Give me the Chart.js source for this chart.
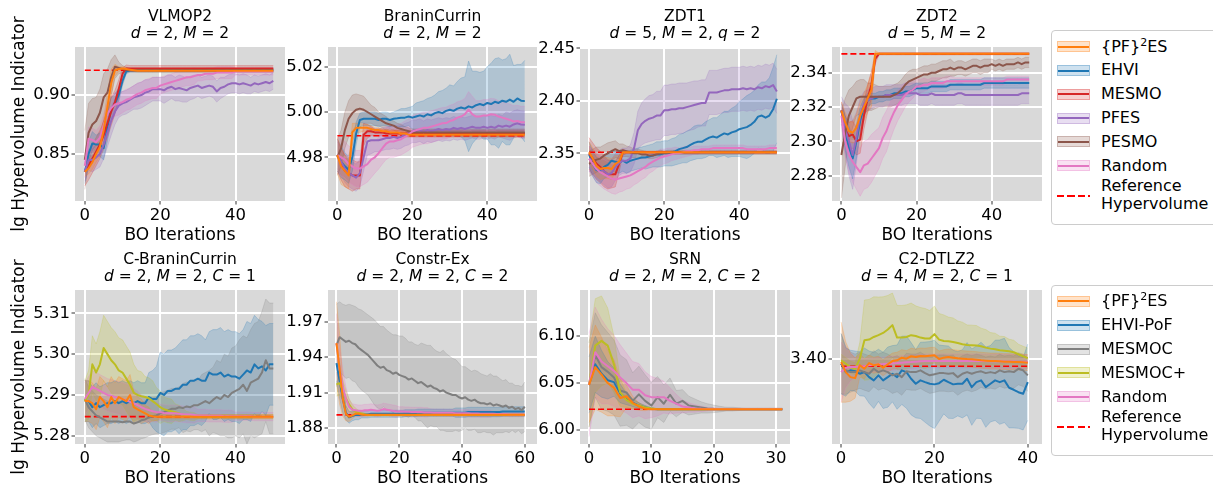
<!DOCTYPE html>
<html>
<head>
<meta charset="utf-8">
<script src="https://cdn.jsdelivr.net/npm/chart.js@4.4.1/dist/chart.umd.min.js"></script>
<style>
  html, body { margin: 0; padding: 0; }
  body { width: 1213px; height: 486px; position: relative; overflow: hidden; background: #fff;
         font-family: 'DejaVu Sans', sans-serif; color: #000; }
  canvas { position: absolute; }
  .ttl { position: absolute; width: 320px; text-align: center; font-size: 15.5px; line-height: 16.6px; white-space: nowrap; }
  .ylab { position: absolute; font-size: 17px; white-space: nowrap; transform: translate(-50%, -50%) rotate(-90deg); }
  .leg { position: absolute; left: 1051px; width: 190px; border: 1px solid #cccccc; border-radius: 4px; background: #fff; }
  .key { position: absolute; left: 1057px; width: 33px; height: 11px; box-sizing: border-box; }
  .key i { position: absolute; left: 0; right: 0; top: 3.5px; height: 2px; }
  .lab { position: absolute; left: 1101px; font-size: 16px; line-height: 18.4px; white-space: nowrap; }
  .lab sup { font-size: 11px; vertical-align: 0; position: relative; top: -6px; }
</style>
</head>
<body>
<script>
// ---------------- data: mean and spread per method, one value per BO iteration ----------------

// VLMOP2 (d=2, M=2)
const vlmop2Ref = 0.921;
const vlmop2Pf2es = [0.835,0.838,0.843,0.850,0.856,0.870,0.890,0.910,0.921,0.922,
  0.9225,0.922,0.9215,0.921,0.9205,0.9205,0.9205,0.9205,0.9205,0.9205,
  0.9205,0.9205,0.9205,0.9205,0.9205,0.9205,0.9205,0.9205,0.9205,0.9205,
  0.9205,0.9205,0.9205,0.9205,0.9205,0.9205,0.9205,0.9205,0.9205,0.9205,
  0.9205,0.9205,0.9205,0.9205,0.9205,0.9205,0.9205,0.9205,0.9205,0.9205,0.9205];
const vlmop2Pf2esSd = [0.004,0.005,0.006,0.007,0.008,0.010,0.012,0.012,0.005,0.002,
  0.0015,0.001,0.001,0.001,0.001,0.001,0.001,0.001,0.001,0.001,
  0.001,0.001,0.001,0.001,0.001,0.001,0.001,0.001,0.001,0.001,
  0.001,0.001,0.001,0.001,0.001,0.001,0.001,0.001,0.001,0.001,
  0.001,0.001,0.001,0.001,0.001,0.001,0.001,0.001,0.001,0.001,0.001];
const vlmop2Ehvi = [0.835,0.850,0.859,0.858,0.858,0.855,0.873,0.888,0.893,0.900,
  0.912,0.920,0.921,0.921,0.921,0.921,0.921,0.921,0.921,0.921,
  0.921,0.921,0.921,0.921,0.921,0.921,0.921,0.921,0.921,0.921,
  0.921,0.921,0.921,0.921,0.921,0.921,0.921,0.921,0.921,0.921,
  0.921,0.921,0.921,0.921,0.921,0.921,0.921,0.921,0.921,0.921,0.921];
const vlmop2EhviSd = [0.010,0.010,0.010,0.008,0.010,0.010,0.012,0.010,0.008,0.006,
  0.004,0.002,0.0015,0.0015,0.0015,0.0015,0.0015,0.0015,0.0015,0.0015,
  0.0015,0.0015,0.0015,0.0015,0.0015,0.0015,0.0015,0.0015,0.0015,0.0015,
  0.0015,0.0015,0.0015,0.0015,0.0015,0.0015,0.0015,0.0015,0.0015,0.0015,
  0.0015,0.0015,0.0015,0.0015,0.0015,0.0015,0.0015,0.0015,0.0015,0.0015,0.0015];
const vlmop2Mesmo = [0.835,0.840,0.846,0.852,0.858,0.866,0.876,0.886,0.894,0.905,
  0.918,0.9225,0.9225,0.9225,0.9225,0.9225,0.9225,0.9225,0.9225,0.9225,
  0.9225,0.9225,0.9225,0.9225,0.9225,0.9225,0.9225,0.9225,0.9225,0.9225,
  0.9225,0.9225,0.9225,0.9225,0.9225,0.9225,0.9225,0.9225,0.9225,0.9225,
  0.9225,0.9225,0.9225,0.9225,0.9225,0.9225,0.9225,0.9225,0.9225,0.9225,0.9225];
const vlmop2MesmoSd = [0.012,0.012,0.012,0.012,0.012,0.012,0.012,0.012,0.010,0.008,
  0.005,0.003,0.0025,0.0025,0.0025,0.0025,0.0025,0.0025,0.0025,0.0025,
  0.0025,0.0025,0.0025,0.0025,0.0025,0.0025,0.0025,0.0025,0.0025,0.0025,
  0.0025,0.0025,0.0025,0.0025,0.0025,0.0025,0.0025,0.0025,0.0025,0.0025,
  0.0025,0.0025,0.0025,0.0025,0.0025,0.0025,0.0025,0.0025,0.0025,0.0025,0.0025];
const vlmop2Pfes = [0.835,0.845,0.845,0.847,0.850,0.858,0.868,0.878,0.886,0.891,
  0.893,0.894,0.896,0.898,0.899,0.900,0.902,0.903,0.905,0.905,
  0.905,0.904,0.906,0.907,0.905,0.906,0.905,0.904,0.906,0.907,
  0.908,0.906,0.907,0.908,0.907,0.903,0.906,0.907,0.909,0.910,
  0.910,0.909,0.910,0.909,0.908,0.910,0.909,0.910,0.911,0.910,0.912];
const vlmop2PfesSd = [0.008,0.009,0.010,0.010,0.011,0.012,0.012,0.012,0.011,0.010,
  0.010,0.010,0.010,0.010,0.011,0.011,0.011,0.010,0.010,0.010,
  0.010,0.011,0.011,0.010,0.010,0.011,0.011,0.010,0.010,0.010,
  0.009,0.009,0.009,0.009,0.009,0.009,0.009,0.008,0.008,0.008,
  0.008,0.008,0.008,0.008,0.007,0.007,0.007,0.007,0.007,0.007,0.007];
const vlmop2Pesmo = [0.845,0.868,0.875,0.878,0.885,0.898,0.902,0.915,0.924,0.923,
  0.922,0.9215,0.921,0.921,0.921,0.921,0.921,0.921,0.921,0.921,
  0.921,0.921,0.921,0.921,0.921,0.921,0.921,0.921,0.921,0.921,
  0.921,0.921,0.921,0.921,0.921,0.921,0.921,0.921,0.921,0.921,
  0.921,0.921,0.921,0.921,0.921,0.921,0.921,0.921,0.921,0.921,0.921];
const vlmop2PesmoSd = [0.025,0.025,0.022,0.020,0.020,0.020,0.020,0.015,0.010,0.005,
  0.003,0.002,0.0015,0.0015,0.0015,0.0015,0.0015,0.0015,0.0015,0.0015,
  0.0015,0.0015,0.0015,0.0015,0.0015,0.0015,0.0015,0.0015,0.0015,0.0015,
  0.0015,0.0015,0.0015,0.0015,0.0015,0.0015,0.0015,0.0015,0.0015,0.0015,
  0.0015,0.0015,0.0015,0.0015,0.0015,0.0015,0.0015,0.0015,0.0015,0.0015,0.0015];
const vlmop2Random = [0.840,0.863,0.862,0.860,0.864,0.874,0.884,0.889,0.892,0.893,
  0.894,0.896,0.897,0.899,0.901,0.902,0.904,0.905,0.906,0.906,
  0.908,0.909,0.910,0.911,0.912,0.913,0.914,0.915,0.915,0.916,
  0.917,0.917,0.918,0.918,0.918,0.919,0.919,0.919,0.919,0.919,
  0.920,0.920,0.920,0.920,0.920,0.920,0.920,0.920,0.920,0.920,0.920];
const vlmop2RandomSd = [0.010,0.010,0.010,0.010,0.010,0.010,0.010,0.010,0.010,0.010,
  0.009,0.009,0.009,0.009,0.009,0.009,0.009,0.009,0.009,0.009,
  0.007,0.007,0.007,0.007,0.007,0.007,0.007,0.007,0.007,0.007,
  0.005,0.005,0.005,0.005,0.005,0.005,0.005,0.005,0.005,0.005,
  0.003,0.003,0.003,0.003,0.003,0.003,0.003,0.003,0.003,0.003,0.003];

// BraninCurrin (d=2, M=2)
const braninRef = 4.9895;
const braninPf2es = [4.981,4.976,4.974,4.972,4.991,4.993,4.993,4.993,4.993,4.9925,
  4.992,4.992,4.9915,4.9915,4.991,4.991,4.991,4.9905,4.9905,4.990,
  4.990,4.990,4.990,4.990,4.990,4.990,4.990,4.990,4.990,4.990,
  4.990,4.990,4.990,4.990,4.990,4.990,4.990,4.990,4.990,4.990,
  4.990,4.990,4.990,4.990,4.990,4.990,4.990,4.990,4.990,4.990,4.990];
const braninPf2esSd = [0.008,0.008,0.007,0.006,0.004,0.002,0.002,0.0015,0.0015,0.0015,
  0.001,0.001,0.001,0.001,0.001,0.001,0.001,0.001,0.001,0.001,
  0.001,0.001,0.001,0.001,0.001,0.001,0.001,0.001,0.001,0.001,
  0.001,0.001,0.001,0.001,0.001,0.001,0.001,0.001,0.001,0.001,
  0.001,0.001,0.001,0.001,0.001,0.001,0.001,0.001,0.001,0.001,0.001];
const braninEhvi = [4.981,4.978,4.976,4.9745,4.980,4.9905,4.9965,4.997,4.997,4.997,
  4.997,4.9965,4.997,4.997,4.9965,4.997,4.9972,4.9975,4.9975,4.998,
  4.9975,4.998,4.9985,4.998,4.999,4.9985,4.9995,5.000,4.9995,5.0005,
  5.001,5.0005,5.0015,5.002,5.0015,5.0025,5.002,5.003,5.0035,5.003,
  5.004,5.0035,5.0045,5.004,5.005,5.0045,5.0055,5.0045,5.006,5.005,5.0048];
const braninEhviSd = [0.007,0.007,0.006,0.006,0.006,0.005,0.003,0.003,0.003,0.003,
  0.003,0.003,0.003,0.003,0.003,0.003,0.0035,0.004,0.004,0.004,
  0.005,0.006,0.006,0.007,0.007,0.008,0.008,0.009,0.010,0.010,
  0.011,0.011,0.012,0.013,0.014,0.020,0.016,0.015,0.014,0.015,
  0.016,0.018,0.019,0.020,0.018,0.019,0.020,0.016,0.015,0.016,0.018];
const braninMesmo = [4.981,4.977,4.974,4.973,4.972,4.972,4.972,4.990,4.9915,4.9915,
  4.991,4.991,4.991,4.9905,4.9905,4.9905,4.9905,4.9905,4.9905,4.9905,
  4.9905,4.9905,4.9905,4.9905,4.9905,4.9905,4.9905,4.9905,4.9905,4.9905,
  4.9905,4.9905,4.9905,4.9905,4.9905,4.9905,4.9905,4.9905,4.9905,4.9905,
  4.9905,4.9905,4.9905,4.9905,4.9905,4.9905,4.9905,4.9905,4.9905,4.9905,4.9905];
const braninMesmoSd = [0.007,0.007,0.007,0.007,0.007,0.006,0.006,0.005,0.003,0.002,
  0.0015,0.0015,0.0015,0.0015,0.0015,0.0015,0.0015,0.0015,0.0015,0.0015,
  0.0015,0.0015,0.0015,0.0015,0.0015,0.0015,0.0015,0.0015,0.0015,0.0015,
  0.0015,0.0015,0.0015,0.0015,0.0015,0.0015,0.0015,0.0015,0.0015,0.0015,
  0.0015,0.0015,0.0015,0.0015,0.0015,0.0015,0.0015,0.0015,0.0015,0.0015,0.0015];
const braninPfes = [4.981,4.978,4.975,4.973,4.972,4.971,4.973,4.980,4.987,4.9875,
  4.9875,4.9875,4.988,4.9885,4.9885,4.989,4.9885,4.989,4.990,4.9905,
  4.9915,4.9915,4.992,4.991,4.992,4.9915,4.992,4.9925,4.992,4.9925,
  4.9922,4.993,4.9925,4.993,4.9925,4.993,4.9935,4.993,4.993,4.9935,
  4.993,4.9935,4.993,4.994,4.9935,4.994,4.9935,4.9945,4.995,4.9945,4.9944];
const braninPfesSd = [0.006,0.006,0.006,0.006,0.006,0.006,0.006,0.006,0.006,0.006,
  0.005,0.005,0.005,0.005,0.005,0.005,0.005,0.005,0.005,0.005,
  0.005,0.005,0.005,0.005,0.005,0.005,0.005,0.005,0.005,0.005,
  0.005,0.005,0.005,0.005,0.005,0.005,0.005,0.005,0.005,0.005,
  0.005,0.005,0.005,0.005,0.005,0.006,0.006,0.006,0.006,0.006,0.006];
const braninPesmo = [4.980,4.984,4.992,4.997,4.9995,5.001,5.0015,5.001,5.000,4.999,
  4.998,4.997,4.996,4.995,4.9945,4.994,4.993,4.9925,4.992,4.9915,
  4.991,4.991,4.991,4.991,4.991,4.991,4.991,4.991,4.991,4.991,
  4.991,4.991,4.991,4.991,4.991,4.991,4.991,4.991,4.991,4.991,
  4.991,4.991,4.991,4.991,4.991,4.991,4.991,4.991,4.991,4.991,4.991];
const braninPesmoSd = [0.008,0.008,0.008,0.008,0.008,0.007,0.006,0.006,0.005,0.004,
  0.004,0.003,0.003,0.003,0.002,0.002,0.002,0.002,0.0015,0.0015,
  0.0015,0.0015,0.0015,0.0015,0.0015,0.0015,0.0015,0.0015,0.0015,0.0015,
  0.0015,0.0015,0.0015,0.0015,0.0015,0.0015,0.0015,0.0015,0.0015,0.0015,
  0.0015,0.0015,0.0015,0.0015,0.0015,0.0015,0.0015,0.0015,0.0015,0.0015,0.0015];
const braninRandom = [4.981,4.980,4.979,4.977,4.976,4.975,4.975,4.976,4.977,4.979,
  4.980,4.9818,4.984,4.986,4.987,4.987,4.9875,4.988,4.989,4.990,
  4.9914,4.992,4.9925,4.993,4.993,4.9935,4.994,4.9945,4.995,4.9951,
  4.996,4.9965,4.9975,4.998,4.999,5.001,4.999,4.998,4.998,4.9985,
  4.9985,4.999,4.9988,4.998,4.9975,4.997,4.9965,4.9958,4.996,4.9955,4.9955];
const braninRandomSd = [0.008,0.008,0.008,0.008,0.008,0.008,0.008,0.008,0.008,0.008,
  0.007,0.007,0.007,0.007,0.007,0.007,0.007,0.007,0.007,0.007,
  0.007,0.007,0.007,0.007,0.007,0.007,0.007,0.007,0.007,0.007,
  0.007,0.007,0.007,0.007,0.007,0.008,0.008,0.007,0.007,0.007,
  0.007,0.007,0.007,0.007,0.007,0.007,0.007,0.007,0.007,0.007,0.007];

// ZDT1 (d=5, M=2, q=2)
const zdt1Ref = 2.351;
const zdt1Pf2es = [2.351,2.345,2.338,2.335,2.336,2.336,2.335,2.340,2.342,2.351,
  2.351,2.351,2.351,2.351,2.351,2.351,2.351,2.351,2.351,2.351,
  2.351,2.351,2.351,2.351,2.351,2.351,2.351,2.351,2.351,2.351,
  2.351,2.351,2.351,2.351,2.351,2.351,2.351,2.351,2.351,2.351,
  2.351,2.351,2.351,2.351,2.351,2.351,2.351,2.351,2.351,2.351,2.351];
const zdt1Pf2esSd = [0.010,0.010,0.010,0.010,0.010,0.010,0.010,0.008,0.006,0.002,
  0.001,0.001,0.001,0.001,0.001,0.001,0.001,0.001,0.001,0.001,
  0.001,0.001,0.001,0.001,0.001,0.001,0.001,0.001,0.001,0.001,
  0.001,0.001,0.001,0.001,0.001,0.001,0.001,0.001,0.001,0.001,
  0.001,0.001,0.001,0.001,0.001,0.001,0.001,0.001,0.001,0.001,0.001];
const zdt1Ehvi = [2.349,2.340,2.334,2.333,2.337,2.339,2.343,2.342,2.341,2.343,
  2.341,2.343,2.344,2.345,2.346,2.346,2.347,2.348,2.349,2.349,
  2.350,2.350,2.351,2.352,2.354,2.355,2.356,2.358,2.360,2.361,
  2.361,2.363,2.365,2.366,2.365,2.367,2.369,2.368,2.370,2.371,
  2.373,2.374,2.375,2.377,2.380,2.385,2.386,2.384,2.386,2.392,2.402];
const zdt1EhviSd = [0.012,0.012,0.012,0.012,0.011,0.011,0.010,0.010,0.010,0.010,
  0.010,0.010,0.010,0.010,0.010,0.011,0.011,0.011,0.012,0.012,
  0.012,0.012,0.013,0.013,0.014,0.014,0.015,0.015,0.016,0.016,
  0.016,0.017,0.017,0.018,0.019,0.020,0.021,0.022,0.023,0.024,
  0.026,0.028,0.030,0.030,0.030,0.030,0.032,0.034,0.036,0.040,0.042];
const zdt1Mesmo = [2.350,2.345,2.340,2.337,2.333,2.330,2.330,2.330,2.340,2.351,
  2.351,2.351,2.351,2.351,2.351,2.351,2.351,2.351,2.351,2.351,
  2.351,2.351,2.351,2.351,2.351,2.351,2.351,2.351,2.351,2.351,
  2.351,2.351,2.351,2.351,2.351,2.351,2.351,2.351,2.351,2.351,
  2.351,2.351,2.351,2.351,2.351,2.351,2.351,2.351,2.351,2.351,2.351];
const zdt1MesmoSd = [0.015,0.015,0.015,0.015,0.015,0.014,0.013,0.012,0.008,0.003,
  0.001,0.001,0.001,0.001,0.001,0.001,0.001,0.001,0.001,0.001,
  0.001,0.001,0.001,0.001,0.001,0.001,0.001,0.001,0.001,0.001,
  0.001,0.001,0.001,0.001,0.001,0.001,0.001,0.001,0.001,0.001,
  0.001,0.001,0.001,0.001,0.001,0.001,0.001,0.001,0.001,0.001,0.001];
const zdt1Pfes = [2.345,2.342,2.338,2.335,2.333,2.330,2.331,2.337,2.341,2.343,
  2.343,2.345,2.355,2.372,2.378,2.381,2.383,2.384,2.386,2.386,
  2.391,2.391,2.392,2.392,2.393,2.393,2.394,2.395,2.396,2.397,
  2.398,2.398,2.408,2.408,2.408,2.409,2.410,2.410,2.411,2.411,
  2.411,2.412,2.411,2.412,2.411,2.413,2.412,2.414,2.413,2.415,2.409];
const zdt1PfesSd = [0.012,0.012,0.012,0.012,0.013,0.013,0.013,0.013,0.012,0.012,
  0.012,0.013,0.015,0.018,0.020,0.021,0.022,0.022,0.023,0.023,
  0.024,0.024,0.024,0.024,0.024,0.024,0.023,0.023,0.023,0.022,
  0.022,0.022,0.021,0.021,0.021,0.021,0.021,0.021,0.021,0.021,
  0.021,0.021,0.021,0.021,0.021,0.021,0.021,0.021,0.021,0.021,0.021];
const zdt1Pesmo = [2.340,2.342,2.344,2.345,2.348,2.350,2.352,2.354,2.352,2.353,
  2.352,2.351,2.350,2.350,2.349,2.349,2.348,2.348,2.349,2.350,
  2.350,2.351,2.351,2.351,2.351,2.351,2.351,2.351,2.351,2.351,
  2.351,2.351,2.351,2.351,2.351,2.351,2.351,2.351,2.351,2.351,
  2.351,2.351,2.351,2.351,2.351,2.351,2.351,2.351,2.351,2.351,2.351];
const zdt1PesmoSd = [0.012,0.012,0.012,0.011,0.010,0.010,0.009,0.008,0.007,0.006,
  0.005,0.005,0.004,0.004,0.004,0.003,0.003,0.003,0.003,0.003,
  0.002,0.002,0.002,0.002,0.002,0.002,0.002,0.002,0.002,0.002,
  0.002,0.002,0.002,0.002,0.002,0.002,0.002,0.002,0.002,0.002,
  0.002,0.002,0.002,0.002,0.002,0.002,0.002,0.002,0.002,0.002,0.002];
const zdt1Random = [2.345,2.340,2.335,2.332,2.330,2.328,2.326,2.325,2.326,2.327,
  2.328,2.329,2.331,2.333,2.335,2.337,2.340,2.342,2.344,2.346,
  2.347,2.348,2.349,2.350,2.350,2.351,2.352,2.352,2.353,2.353,
  2.354,2.354,2.354,2.355,2.355,2.355,2.355,2.355,2.355,2.355,
  2.355,2.355,2.354,2.354,2.354,2.354,2.354,2.354,2.355,2.355,2.355];
const zdt1RandomSd = [0.012,0.012,0.013,0.013,0.014,0.014,0.014,0.014,0.013,0.013,
  0.012,0.012,0.011,0.011,0.010,0.010,0.009,0.009,0.008,0.008,
  0.007,0.007,0.006,0.006,0.005,0.005,0.005,0.004,0.004,0.004,
  0.003,0.003,0.003,0.003,0.003,0.003,0.003,0.003,0.003,0.003,
  0.003,0.003,0.003,0.003,0.003,0.003,0.003,0.003,0.003,0.003,0.003];

// ZDT2 (d=5, M=2)
const zdt2Ref = 2.351;
const zdt2Pf2es = [2.318,2.311,2.306,2.305,2.308,2.315,2.320,2.325,2.330,2.351,
  2.351,2.351,2.351,2.351,2.351,2.351,2.351,2.351,2.351,2.351,
  2.351,2.351,2.351,2.351,2.351,2.351,2.351,2.351,2.351,2.351,
  2.351,2.351,2.351,2.351,2.351,2.351,2.351,2.351,2.351,2.351,
  2.351,2.351,2.351,2.351,2.351,2.351,2.351,2.351,2.351,2.351,2.351];
const zdt2Pf2esSd = [0.005,0.006,0.006,0.006,0.008,0.008,0.008,0.008,0.010,0.002,
  0.0005,0.0005,0.0005,0.0005,0.0005,0.0005,0.0005,0.0005,0.0005,0.0005,
  0.0005,0.0005,0.0005,0.0005,0.0005,0.0005,0.0005,0.0005,0.0005,0.0005,
  0.0005,0.0005,0.0005,0.0005,0.0005,0.0005,0.0005,0.0005,0.0005,0.0005,
  0.0005,0.0005,0.0005,0.0005,0.0005,0.0005,0.0005,0.0005,0.0005,0.0005,0.0005];
const zdt2Ehvi = [2.318,2.305,2.297,2.290,2.300,2.312,2.320,2.324,2.325,2.325,
  2.326,2.326,2.327,2.327,2.328,2.328,2.328,2.329,2.329,2.330,
  2.331,2.331,2.331,2.331,2.332,2.332,2.332,2.332,2.332,2.333,
  2.333,2.333,2.333,2.333,2.333,2.333,2.333,2.333,2.334,2.334,
  2.334,2.334,2.334,2.334,2.334,2.334,2.334,2.334,2.334,2.334,2.334];
const zdt2EhviSd = [0.004,0.010,0.012,0.012,0.010,0.008,0.005,0.004,0.003,0.003,
  0.003,0.003,0.003,0.003,0.003,0.003,0.003,0.003,0.003,0.003,
  0.003,0.003,0.003,0.003,0.003,0.003,0.003,0.003,0.003,0.003,
  0.003,0.003,0.003,0.003,0.003,0.003,0.003,0.003,0.003,0.003,
  0.003,0.003,0.003,0.003,0.003,0.003,0.003,0.003,0.003,0.003,0.003];
const zdt2Mesmo = [2.318,2.307,2.303,2.304,2.300,2.301,2.315,2.325,2.333,2.348,
  2.351,2.351,2.351,2.351,2.351,2.351,2.351,2.351,2.351,2.351,
  2.351,2.351,2.351,2.351,2.351,2.351,2.351,2.351,2.351,2.351,
  2.351,2.351,2.351,2.351,2.351,2.351,2.351,2.351,2.351,2.351,
  2.351,2.351,2.351,2.351,2.351,2.351,2.351,2.351,2.351,2.351,2.351];
const zdt2MesmoSd = [0.005,0.008,0.008,0.008,0.008,0.008,0.008,0.008,0.008,0.003,
  0.0005,0.0005,0.0005,0.0005,0.0005,0.0005,0.0005,0.0005,0.0005,0.0005,
  0.0005,0.0005,0.0005,0.0005,0.0005,0.0005,0.0005,0.0005,0.0005,0.0005,
  0.0005,0.0005,0.0005,0.0005,0.0005,0.0005,0.0005,0.0005,0.0005,0.0005,
  0.0005,0.0005,0.0005,0.0005,0.0005,0.0005,0.0005,0.0005,0.0005,0.0005,0.0005];
const zdt2Pfes = [2.318,2.307,2.300,2.292,2.302,2.315,2.322,2.324,2.325,2.326,
  2.326,2.326,2.327,2.327,2.327,2.327,2.327,2.328,2.328,2.328,
  2.328,2.327,2.327,2.327,2.328,2.327,2.327,2.327,2.327,2.327,
  2.327,2.328,2.328,2.327,2.327,2.327,2.327,2.327,2.327,2.327,
  2.327,2.327,2.327,2.327,2.327,2.327,2.327,2.327,2.328,2.328,2.328];
const zdt2PfesSd = [0.008,0.015,0.020,0.020,0.015,0.010,0.007,0.006,0.006,0.006,
  0.006,0.006,0.006,0.006,0.006,0.006,0.006,0.006,0.006,0.006,
  0.006,0.006,0.006,0.006,0.006,0.006,0.006,0.006,0.006,0.006,
  0.006,0.006,0.006,0.006,0.006,0.006,0.006,0.006,0.006,0.006,
  0.006,0.006,0.006,0.006,0.006,0.006,0.006,0.006,0.006,0.006,0.006];
const zdt2Pesmo = [2.292,2.305,2.315,2.320,2.325,2.326,2.326,2.326,2.326,2.326,
  2.326,2.326,2.326,2.326,2.327,2.328,2.330,2.333,2.335,2.336,
  2.337,2.338,2.339,2.339,2.340,2.340,2.341,2.342,2.342,2.343,
  2.342,2.343,2.343,2.342,2.343,2.344,2.344,2.343,2.344,2.344,
  2.345,2.344,2.345,2.344,2.345,2.345,2.345,2.346,2.345,2.346,2.346];
const zdt2PesmoSd = [0.025,0.020,0.015,0.012,0.010,0.010,0.010,0.008,0.008,0.007,
  0.006,0.006,0.006,0.006,0.006,0.006,0.006,0.006,0.006,0.006,
  0.005,0.005,0.005,0.005,0.005,0.005,0.005,0.005,0.005,0.005,
  0.004,0.004,0.004,0.004,0.004,0.004,0.004,0.004,0.004,0.004,
  0.003,0.003,0.003,0.003,0.003,0.003,0.003,0.003,0.003,0.003,0.003];
const zdt2Random = [2.315,2.300,2.292,2.288,2.285,2.282,2.286,2.287,2.290,2.293,
  2.296,2.302,2.306,2.312,2.317,2.321,2.324,2.327,2.329,2.330,
  2.332,2.332,2.333,2.333,2.334,2.334,2.334,2.334,2.335,2.335,
  2.335,2.335,2.335,2.335,2.335,2.335,2.335,2.335,2.335,2.335,
  2.335,2.335,2.335,2.335,2.336,2.336,2.336,2.336,2.336,2.336,2.336];
const zdt2RandomSd = [0.005,0.008,0.010,0.012,0.013,0.014,0.014,0.014,0.014,0.013,
  0.012,0.012,0.012,0.011,0.010,0.009,0.008,0.007,0.006,0.005,
  0.004,0.004,0.004,0.003,0.003,0.003,0.003,0.003,0.003,0.003,
  0.002,0.002,0.002,0.002,0.002,0.002,0.002,0.002,0.002,0.002,
  0.002,0.002,0.002,0.002,0.002,0.002,0.002,0.002,0.002,0.002,0.002];

// C-BraninCurrin (d=2, M=2, C=1)
const cbraninRef = 5.2847;
const cbraninPf2es = [5.2885,5.2885,5.2880,5.2865,5.2895,5.2885,5.2870,5.2895,5.2880,5.2895,
  5.2890,5.2885,5.2900,5.2870,5.2865,5.2860,5.2855,5.2850,5.2848,5.2847,
  5.2847,5.2847,5.2847,5.2847,5.2847,5.2847,5.2847,5.2847,5.2847,5.2847,
  5.2847,5.2847,5.2847,5.2847,5.2847,5.2847,5.2847,5.2847,5.2847,5.2847,
  5.2847,5.2847,5.2847,5.2847,5.2847,5.2847,5.2847,5.2847,5.2847,5.2847,5.2847];
const cbraninPf2esSd = [0.005,0.005,0.005,0.005,0.005,0.005,0.005,0.005,0.005,0.005,
  0.005,0.005,0.005,0.004,0.003,0.003,0.002,0.002,0.001,0.001,
  0.0005,0.0005,0.0005,0.0005,0.0005,0.0005,0.0005,0.0005,0.0005,0.0005,
  0.0005,0.0005,0.0005,0.0005,0.0005,0.0005,0.0005,0.0005,0.0005,0.0005,
  0.0005,0.0005,0.0005,0.0005,0.0005,0.0005,0.0005,0.0005,0.0005,0.0005,0.0005];
const cbraninEhviPof = [5.2885,5.2885,5.2870,5.2880,5.2870,5.2875,5.2880,5.2880,5.2885,5.2880,
  5.2885,5.2880,5.2885,5.2880,5.2885,5.2880,5.2880,5.2895,5.2890,5.2890,
  5.2905,5.2900,5.2910,5.2910,5.2915,5.2915,5.2925,5.2925,5.2935,5.2935,
  5.2940,5.2935,5.2935,5.2955,5.2950,5.2950,5.2955,5.2945,5.2950,5.2945,
  5.2945,5.2940,5.2950,5.2960,5.2955,5.2975,5.2965,5.2970,5.2960,5.2975,5.2975];
const cbraninEhviPofSd = [0.005,0.005,0.005,0.005,0.005,0.005,0.005,0.005,0.005,0.005,
  0.005,0.005,0.005,0.005,0.005,0.005,0.005,0.006,0.007,0.008,
  0.010,0.010,0.010,0.010,0.010,0.011,0.011,0.011,0.011,0.011,
  0.011,0.011,0.010,0.010,0.011,0.011,0.011,0.011,0.011,0.011,
  0.011,0.011,0.011,0.012,0.012,0.012,0.012,0.011,0.011,0.010,0.010];
const cbraninMesmoc = [5.2890,5.2870,5.2860,5.2850,5.2845,5.2840,5.2835,5.2835,5.2835,5.2835,
  5.2833,5.2835,5.2835,5.2830,5.2833,5.2838,5.2840,5.2845,5.2848,5.2850,
  5.2855,5.2858,5.2862,5.2866,5.2866,5.2870,5.2868,5.2872,5.2870,5.2875,
  5.2875,5.2880,5.2885,5.2880,5.2888,5.2895,5.2890,5.2900,5.2895,5.2905,
  5.2910,5.2915,5.2925,5.2910,5.2930,5.2935,5.2940,5.2955,5.2985,5.2965,5.2965];
const cbraninMesmocSd = [0.005,0.005,0.005,0.005,0.005,0.005,0.005,0.005,0.005,0.005,
  0.0045,0.0045,0.0045,0.0045,0.0045,0.0045,0.0045,0.0045,0.0045,0.0045,
  0.005,0.005,0.005,0.005,0.005,0.005,0.006,0.006,0.006,0.006,
  0.006,0.007,0.007,0.008,0.008,0.009,0.009,0.010,0.010,0.011,
  0.011,0.012,0.012,0.013,0.013,0.014,0.014,0.015,0.015,0.016,0.016];
const cbraninMesmocPlus = [5.2885,5.2900,5.2975,5.2955,5.2975,5.3015,5.3000,5.2985,5.2975,5.2960,
  5.2955,5.2940,5.2925,5.2905,5.2900,5.2897,5.2895,5.2892,5.2885,5.2878,
  5.2870,5.2865,5.2862,5.2860,5.2858,5.2855,5.2852,5.2850,5.2848,5.2847,
  5.2847,5.2847,5.2847,5.2847,5.2847,5.2847,5.2847,5.2847,5.2847,5.2847,
  5.2847,5.2847,5.2847,5.2847,5.2847,5.2847,5.2847,5.2847,5.2847,5.2847,5.2847];
const cbraninMesmocPlusSd = [0.005,0.006,0.007,0.007,0.008,0.008,0.008,0.008,0.008,0.008,
  0.008,0.008,0.008,0.007,0.006,0.006,0.005,0.005,0.005,0.004,
  0.004,0.003,0.003,0.003,0.002,0.002,0.0015,0.001,0.001,0.001,
  0.0005,0.0005,0.0005,0.0005,0.0005,0.0005,0.0005,0.0005,0.0005,0.0005,
  0.0005,0.0005,0.0005,0.0005,0.0005,0.0005,0.0005,0.0005,0.0005,0.0005,0.0005];
const cbraninRandom = [5.2890,5.2905,5.2920,5.2915,5.2910,5.2905,5.2900,5.2898,5.2895,5.2893,
  5.2890,5.2887,5.2883,5.2880,5.2875,5.2870,5.2866,5.2863,5.2860,5.2858,
  5.2858,5.2856,5.2855,5.2855,5.2855,5.2854,5.2853,5.2852,5.2852,5.2851,
  5.2850,5.2850,5.2850,5.2849,5.2849,5.2849,5.2849,5.2848,5.2848,5.2848,
  5.2848,5.2848,5.2848,5.2848,5.2848,5.2847,5.2847,5.2847,5.2847,5.2847,5.2847];
const cbraninRandomSd = [0.004,0.004,0.004,0.004,0.004,0.004,0.004,0.004,0.004,0.004,
  0.004,0.004,0.004,0.0035,0.0035,0.003,0.003,0.003,0.0025,0.0025,
  0.002,0.002,0.002,0.002,0.002,0.002,0.002,0.002,0.002,0.002,
  0.0015,0.0015,0.0015,0.0015,0.0015,0.0015,0.0015,0.0015,0.0015,0.0015,
  0.001,0.001,0.001,0.001,0.001,0.001,0.001,0.001,0.001,0.001,0.001];

// Constr-Ex (d=2, M=2, C=2)
const constrRef = 1.8911;
const constrPf2es = [1.952,1.930,1.905,1.892,1.8895,1.8905,1.892,1.892,1.8915,1.8912,
  1.8911,1.8911,1.8911,1.8911,1.8911,1.8911,1.8911,1.8911,1.8911,1.8911,
  1.8911,1.8911,1.8911,1.8911,1.8911,1.8911,1.8911,1.8911,1.8911,1.8911,
  1.8911,1.8911,1.8911,1.8911,1.8911,1.8911,1.8911,1.8911,1.8911,1.8911,
  1.8911,1.8911,1.8911,1.8911,1.8911,1.8911,1.8911,1.8911,1.8911,1.8911,
  1.8911,1.8911,1.8911,1.8911,1.8911,1.8911,1.8911,1.8911,1.8911,1.8911,1.8911];
const constrPf2esSd = [0.035,0.030,0.015,0.006,0.004,0.003,0.002,0.002,0.0015,0.001,
  0.0008,0.0008,0.0008,0.0008,0.0008,0.0008,0.0008,0.0008,0.0008,0.0008,
  0.0008,0.0008,0.0008,0.0008,0.0008,0.0008,0.0008,0.0008,0.0008,0.0008,
  0.0008,0.0008,0.0008,0.0008,0.0008,0.0008,0.0008,0.0008,0.0008,0.0008,
  0.0008,0.0008,0.0008,0.0008,0.0008,0.0008,0.0008,0.0008,0.0008,0.0008,
  0.0008,0.0008,0.0008,0.0008,0.0008,0.0008,0.0008,0.0008,0.0008,0.0008,0.0008];
const constrEhviPof = [1.935,1.920,1.905,1.893,1.889,1.890,1.891,1.891,1.8915,1.8915,
  1.8915,1.892,1.892,1.892,1.892,1.892,1.892,1.892,1.892,1.892,
  1.892,1.892,1.8925,1.8925,1.8925,1.8925,1.893,1.893,1.893,1.893,
  1.893,1.893,1.893,1.893,1.893,1.893,1.893,1.893,1.893,1.893,
  1.893,1.893,1.8935,1.8935,1.8935,1.8935,1.8935,1.8935,1.8935,1.8935,
  1.8935,1.8935,1.8935,1.894,1.894,1.894,1.894,1.894,1.894,1.894,1.894];
const constrEhviPofSd = [0.015,0.015,0.012,0.006,0.005,0.004,0.004,0.004,0.003,0.003,
  0.003,0.003,0.003,0.003,0.003,0.003,0.003,0.003,0.003,0.003,
  0.003,0.003,0.003,0.003,0.003,0.003,0.003,0.003,0.003,0.003,
  0.003,0.003,0.003,0.003,0.003,0.003,0.003,0.003,0.004,0.004,
  0.004,0.004,0.004,0.004,0.004,0.004,0.004,0.004,0.004,0.004,
  0.004,0.004,0.004,0.004,0.004,0.004,0.004,0.004,0.004,0.004,0.004];
const constrMesmoc = [1.950,1.957,1.955,1.953,1.954,1.952,1.951,1.948,1.946,1.944,
  1.942,1.939,1.936,1.933,1.931,1.932,1.929,1.928,1.926,1.927,
  1.925,1.924,1.923,1.921,1.922,1.920,1.918,1.919,1.917,1.915,
  1.916,1.914,1.913,1.911,1.912,1.910,1.909,1.908,1.908,1.906,
  1.905,1.906,1.904,1.903,1.904,1.902,1.901,1.901,1.900,1.901,
  1.899,1.900,1.899,1.898,1.899,1.897,1.898,1.896,1.897,1.895,1.898];
const constrMesmocSd = [0.035,0.030,0.030,0.031,0.031,0.032,0.032,0.033,0.034,0.034,
  0.034,0.035,0.036,0.036,0.035,0.034,0.034,0.033,0.033,0.032,
  0.033,0.034,0.033,0.032,0.031,0.031,0.032,0.033,0.034,0.035,
  0.034,0.033,0.032,0.033,0.034,0.033,0.032,0.031,0.030,0.029,
  0.027,0.026,0.026,0.025,0.025,0.026,0.025,0.024,0.024,0.025,
  0.025,0.024,0.023,0.022,0.022,0.021,0.020,0.020,0.019,0.020,0.021];
const constrMesmocPlus = [1.917,1.918,1.912,1.905,1.900,1.896,1.894,1.893,1.892,1.8915,
  1.891,1.891,1.891,1.891,1.891,1.891,1.891,1.891,1.891,1.891,
  1.891,1.891,1.891,1.891,1.891,1.891,1.891,1.891,1.891,1.891,
  1.891,1.891,1.891,1.891,1.891,1.891,1.891,1.891,1.891,1.891,
  1.891,1.891,1.891,1.891,1.891,1.891,1.891,1.891,1.891,1.891,
  1.891,1.891,1.891,1.891,1.891,1.891,1.891,1.891,1.891,1.891,1.891];
const constrMesmocPlusSd = [0.010,0.010,0.009,0.007,0.005,0.004,0.003,0.002,0.0015,0.001,
  0.0008,0.0008,0.0008,0.0008,0.0008,0.0008,0.0008,0.0008,0.0008,0.0008,
  0.0008,0.0008,0.0008,0.0008,0.0008,0.0008,0.0008,0.0008,0.0008,0.0008,
  0.0008,0.0008,0.0008,0.0008,0.0008,0.0008,0.0008,0.0008,0.0008,0.0008,
  0.0008,0.0008,0.0008,0.0008,0.0008,0.0008,0.0008,0.0008,0.0008,0.0008,
  0.0008,0.0008,0.0008,0.0008,0.0008,0.0008,0.0008,0.0008,0.0008,0.0008,0.0008];
const constrRandom = [1.952,1.930,1.915,1.905,1.898,1.8955,1.895,1.8945,1.8945,1.895,
  1.895,1.8955,1.895,1.8945,1.895,1.896,1.8955,1.895,1.8945,1.894,
  1.894,1.894,1.8938,1.8938,1.8935,1.8935,1.8935,1.8935,1.8932,1.8932,
  1.8932,1.893,1.893,1.893,1.893,1.8928,1.8928,1.8928,1.8925,1.8925,
  1.8925,1.8925,1.8925,1.8922,1.8922,1.8922,1.892,1.892,1.892,1.892,
  1.892,1.8918,1.8918,1.8918,1.8918,1.8915,1.8915,1.8915,1.8915,1.8915,1.8915];
const constrRandomSd = [0.025,0.020,0.015,0.010,0.006,0.005,0.005,0.005,0.005,0.005,
  0.005,0.005,0.005,0.005,0.005,0.005,0.005,0.005,0.005,0.005,
  0.004,0.004,0.004,0.004,0.004,0.004,0.004,0.004,0.004,0.004,
  0.003,0.003,0.003,0.003,0.003,0.003,0.003,0.003,0.003,0.003,
  0.003,0.003,0.003,0.003,0.003,0.003,0.003,0.003,0.003,0.003,
  0.002,0.002,0.002,0.002,0.002,0.002,0.002,0.002,0.002,0.002,0.002];

// SRN (d=2, M=2, C=2)
const srnRef = 6.0221;
const srnPf2es = [6.048,6.067,6.059,6.050,6.045,6.034,6.036,6.029,6.025,6.0225,
  6.0222,6.0222,6.0222,6.0222,6.0222,6.0222,6.0222,6.0222,6.0222,6.0222,
  6.0222,6.0222,6.0222,6.0222,6.0222,6.0222,6.0222,6.0222,6.0222,6.0222,6.0222,6.0222];
const srnPf2esSd = [0.040,0.045,0.040,0.035,0.030,0.020,0.012,0.007,0.004,0.002,
  0.0005,0.0005,0.0005,0.0005,0.0005,0.0005,0.0005,0.0005,0.0005,0.0005,
  0.0005,0.0005,0.0005,0.0005,0.0005,0.0005,0.0005,0.0005,0.0005,0.0005,0.0005,0.0005];
const srnEhviPof = [6.048,6.070,6.060,6.053,6.051,6.039,6.033,6.029,6.026,6.024,
  6.0225,6.0222,6.0222,6.0222,6.0222,6.0222,6.0222,6.0222,6.0222,6.0222,
  6.0222,6.0222,6.0222,6.0222,6.0222,6.0222,6.0222,6.0222,6.0222,6.0222,6.0222,6.0222];
const srnEhviPofSd = [0.030,0.030,0.025,0.020,0.015,0.010,0.006,0.004,0.003,0.002,
  0.001,0.0005,0.0005,0.0005,0.0005,0.0005,0.0005,0.0005,0.0005,0.0005,
  0.0005,0.0005,0.0005,0.0005,0.0005,0.0005,0.0005,0.0005,0.0005,0.0005,0.0005,0.0005];
const srnMesmoc = [6.048,6.080,6.067,6.062,6.056,6.042,6.040,6.031,6.038,6.031,
  6.026,6.035,6.028,6.0375,6.028,6.031,6.026,6.025,6.024,6.023,
  6.0225,6.0222,6.0222,6.0222,6.0222,6.0222,6.0222,6.0222,6.0222,6.0222,6.0222,6.0222];
const srnMesmocSd = [0.045,0.045,0.045,0.042,0.040,0.038,0.035,0.030,0.030,0.028,
  0.025,0.022,0.020,0.018,0.014,0.012,0.010,0.008,0.006,0.005,
  0.004,0.003,0.002,0.002,0.0015,0.001,0.001,0.001,0.001,0.001,0.001,0.001];
const srnMesmocPlus = [6.048,6.090,6.095,6.090,6.070,6.040,6.032,6.028,6.026,6.024,
  6.023,6.0222,6.0222,6.0222,6.0222,6.0222,6.0222,6.0222,6.0222,6.0222,
  6.0222,6.0222,6.0222,6.0222,6.0222,6.0222,6.0222,6.0222,6.0222,6.0222,6.0222,6.0222];
const srnMesmocPlusSd = [0.045,0.050,0.048,0.040,0.030,0.015,0.008,0.005,0.003,0.002,
  0.001,0.0005,0.0005,0.0005,0.0005,0.0005,0.0005,0.0005,0.0005,0.0005,
  0.0005,0.0005,0.0005,0.0005,0.0005,0.0005,0.0005,0.0005,0.0005,0.0005,0.0005,0.0005];
const srnRandom = [6.048,6.083,6.073,6.068,6.063,6.056,6.050,6.043,6.043,6.037,
  6.035,6.035,6.035,6.031,6.028,6.025,6.024,6.023,6.0225,6.0222,
  6.0222,6.0222,6.0222,6.0222,6.0222,6.0222,6.0222,6.0222,6.0222,6.0222,6.0222,6.0222];
const srnRandomSd = [0.055,0.048,0.045,0.040,0.038,0.035,0.032,0.030,0.028,0.025,
  0.022,0.020,0.017,0.014,0.010,0.007,0.005,0.004,0.003,0.002,
  0.0015,0.001,0.001,0.001,0.001,0.001,0.001,0.001,0.001,0.001,0.001,0.001];

// C2-DTLZ2 (d=4, M=2, C=1)
const dtlzRef = 3.3962;
const dtlzPf2es = [3.3983,3.3933,3.3908,3.3903,3.3967,3.3950,3.3978,3.3967,3.3972,3.3955,
  3.3972,3.3988,3.3992,3.4005,3.4000,3.4012,3.4008,3.4013,3.4012,3.4015,
  3.4017,3.3998,3.4005,3.4008,3.4005,3.4002,3.4000,3.3998,3.3997,3.3995,
  3.3992,3.3990,3.3988,3.3988,3.3987,3.3985,3.3985,3.3983,3.3983,3.3982,3.3980];
const dtlzPf2esSd = [0.020,0.015,0.012,0.010,0.006,0.005,0.004,0.004,0.004,0.004,
  0.004,0.004,0.004,0.004,0.004,0.004,0.004,0.004,0.004,0.004,
  0.004,0.004,0.004,0.004,0.004,0.004,0.004,0.004,0.004,0.004,
  0.004,0.004,0.004,0.004,0.004,0.004,0.004,0.004,0.004,0.004,0.004];
const dtlzEhviPof = [3.3975,3.3933,3.3942,3.3938,3.3925,3.3933,3.3908,3.3892,3.3917,3.3892,
  3.3908,3.3925,3.3908,3.3942,3.3933,3.3900,3.3875,3.3892,3.3883,3.3875,
  3.3872,3.3878,3.3895,3.3883,3.3872,3.3875,3.3875,3.3900,3.3858,3.3883,
  3.3892,3.3858,3.3875,3.3892,3.3883,3.3892,3.3855,3.3845,3.3833,3.3825,3.3883];
const dtlzEhviPofSd = [0.015,0.012,0.010,0.010,0.011,0.012,0.013,0.014,0.013,0.014,
  0.015,0.014,0.016,0.017,0.018,0.018,0.017,0.019,0.020,0.021,
  0.022,0.019,0.017,0.018,0.017,0.016,0.017,0.018,0.019,0.018,
  0.019,0.020,0.019,0.020,0.021,0.021,0.020,0.019,0.018,0.018,0.019];
const dtlzMesmoc = [3.3975,3.3942,3.3933,3.3933,3.3942,3.3933,3.3925,3.3950,3.3933,3.3942,
  3.3933,3.3917,3.3925,3.3908,3.3937,3.3933,3.3933,3.3942,3.3928,3.3917,
  3.3922,3.3928,3.3928,3.3925,3.3928,3.3908,3.3925,3.3933,3.3925,3.3933,
  3.3937,3.3928,3.3933,3.3928,3.3942,3.3933,3.3937,3.3933,3.3950,3.3942,3.3917];
const dtlzMesmocSd = [0.015,0.012,0.010,0.009,0.009,0.009,0.009,0.009,0.009,0.009,
  0.009,0.009,0.009,0.009,0.009,0.009,0.009,0.009,0.009,0.009,
  0.009,0.009,0.009,0.009,0.009,0.009,0.009,0.009,0.009,0.009,
  0.008,0.008,0.008,0.008,0.008,0.008,0.008,0.008,0.008,0.008,0.008];
const dtlzMesmocPlus = [3.3992,3.3975,3.3958,3.3950,3.4000,3.4092,3.4095,3.4108,3.4117,3.4128,
  3.4145,3.4167,3.4105,3.4105,3.4108,3.4117,3.4113,3.4105,3.4100,3.4100,
  3.4122,3.4095,3.4088,3.4087,3.4083,3.4078,3.4072,3.4068,3.4067,3.4065,
  3.4062,3.4055,3.4050,3.4047,3.4042,3.4040,3.4037,3.4032,3.4022,3.4012,3.4003];
const dtlzMesmocPlusSd = [0.003,0.003,0.003,0.003,0.008,0.020,0.020,0.020,0.019,0.018,
  0.017,0.016,0.016,0.016,0.016,0.016,0.015,0.015,0.015,0.014,
  0.014,0.013,0.013,0.012,0.012,0.011,0.011,0.010,0.010,0.010,
  0.009,0.009,0.008,0.008,0.007,0.007,0.006,0.006,0.005,0.005,0.005];
const dtlzRandom = [3.3933,3.3955,3.3958,3.3958,3.3962,3.3962,3.3967,3.3968,3.3972,3.3973,
  3.3975,3.3977,3.3978,3.3980,3.3982,3.3983,3.3985,3.3987,3.3988,3.3988,
  3.3988,3.3988,3.3988,3.3988,3.3988,3.3988,3.3988,3.3988,3.3988,3.3988,
  3.3988,3.3988,3.3987,3.3987,3.3987,3.3986,3.3986,3.3986,3.3985,3.3985,3.3985];
const dtlzRandomSd = [0.015,0.010,0.007,0.005,0.004,0.0035,0.0035,0.0035,0.0035,0.0035,
  0.0035,0.0035,0.0035,0.0035,0.0035,0.0035,0.0035,0.0035,0.0035,0.0035,
  0.0035,0.0035,0.0035,0.0035,0.0035,0.0035,0.0035,0.0035,0.0035,0.0035,
  0.0035,0.0035,0.0035,0.0035,0.0035,0.0035,0.0035,0.0035,0.0035,0.0035,0.0035];

// ---------------- styling ----------------
const COLORS = {
  pf2es: '#ff7f0e', ehvi: '#1f77b4', mesmo: '#d62728', pfes: '#9467bd',
  pesmo: '#8c564b', random: '#e377c2', mesmoc: '#7f7f7f', mesmocp: '#bcbd22', ref: '#ff0000'
};
const BAND_ALPHA = 0.22;
const PANEL_BG = '#d9d9d9';
const PAD_L = 62, PAD_R = 12, PAD_T = 14, PAD_B = 45;
const FONT = "'DejaVu Sans', sans-serif";

function rgba(hex, a) {
  const n = parseInt(hex.slice(1), 16);
  return `rgba(${(n >> 16) & 255},${(n >> 8) & 255},${n & 255},${a})`;
}

const panels = [
  { x: 75, y: 47, w: 210, h: 154, xr: [-2.6, 53.1], xt: [0, 20, 40], yr: [0.8102, 0.9407], yt: [0.85, 0.90],
    title: 'VLMOP2', sub: '<i>d</i> = 2, <i>M</i> = 2', ref: vlmop2Ref,
    series: [['pf2es', vlmop2Pf2es, vlmop2Pf2esSd], ['ehvi', vlmop2Ehvi, vlmop2EhviSd], ['mesmo', vlmop2Mesmo, vlmop2MesmoSd],
             ['pfes', vlmop2Pfes, vlmop2PfesSd], ['pesmo', vlmop2Pesmo, vlmop2PesmoSd], ['random', vlmop2Random, vlmop2RandomSd]] },
  { x: 328, y: 47, w: 209, h: 154, xr: [-2.5, 53.25], xt: [0, 20, 40], yr: [4.9607, 5.0287], yt: [4.98, 5.00, 5.02],
    title: 'BraninCurrin', sub: '<i>d</i> = 2, <i>M</i> = 2', ref: braninRef,
    series: [['pf2es', braninPf2es, braninPf2esSd], ['ehvi', braninEhvi, braninEhviSd], ['mesmo', braninMesmo, braninMesmoSd],
             ['pfes', braninPfes, braninPfesSd], ['pesmo', braninPesmo, braninPesmoSd], ['random', braninRandom, braninRandomSd]] },
  { x: 580, y: 47, w: 210, h: 154, xr: [-2.4, 53.5], xt: [0, 20, 40], yr: [2.3046, 2.4513], yt: [2.35, 2.40, 2.45],
    title: 'ZDT1', sub: '<i>d</i> = 5, <i>M</i> = 2, <i>q</i> = 2', ref: zdt1Ref,
    series: [['pf2es', zdt1Pf2es, zdt1Pf2esSd], ['ehvi', zdt1Ehvi, zdt1EhviSd], ['mesmo', zdt1Mesmo, zdt1MesmoSd],
             ['pfes', zdt1Pfes, zdt1PfesSd], ['pesmo', zdt1Pesmo, zdt1PesmoSd], ['random', zdt1Random, zdt1RandomSd]] },
  { x: 832, y: 47, w: 210, h: 154, xr: [-2.5, 53.4], xt: [0, 20, 40], yr: [2.2652, 2.3550], yt: [2.28, 2.30, 2.32, 2.34],
    title: 'ZDT2', sub: '<i>d</i> = 5, <i>M</i> = 2', ref: zdt2Ref,
    series: [['pf2es', zdt2Pf2es, zdt2Pf2esSd], ['ehvi', zdt2Ehvi, zdt2EhviSd], ['mesmo', zdt2Mesmo, zdt2MesmoSd],
             ['pfes', zdt2Pfes, zdt2PfesSd], ['pesmo', zdt2Pesmo, zdt2PesmoSd], ['random', zdt2Random, zdt2RandomSd]] },
  { x: 75, y: 290, w: 210, h: 154, xr: [-2.6, 53.1], xt: [0, 20, 40], yr: [5.2780, 5.3157], yt: [5.28, 5.29, 5.30, 5.31],
    title: 'C-BraninCurrin', sub: '<i>d</i> = 2, <i>M</i> = 2, <i>C</i> = 1', ref: cbraninRef,
    series: [['pf2es', cbraninPf2es, cbraninPf2esSd], ['ehvi', cbraninEhviPof, cbraninEhviPofSd], ['mesmoc', cbraninMesmoc, cbraninMesmocSd],
             ['mesmocp', cbraninMesmocPlus, cbraninMesmocPlusSd], ['random', cbraninRandom, cbraninRandomSd]] },
  { x: 328, y: 290, w: 209, h: 154, xr: [-2.7, 63.9], xt: [0, 20, 40, 60], yr: [1.8664, 1.9970], yt: [1.88, 1.91, 1.94, 1.97],
    title: 'Constr-Ex', sub: '<i>d</i> = 2, <i>M</i> = 2, <i>C</i> = 2', ref: constrRef,
    series: [['pf2es', constrPf2es, constrPf2esSd], ['ehvi', constrEhviPof, constrEhviPofSd], ['mesmoc', constrMesmoc, constrMesmocSd],
             ['mesmocp', constrMesmocPlus, constrMesmocPlusSd], ['random', constrRandom, constrRandomSd]] },
  { x: 580, y: 290, w: 210, h: 154, xr: [-1.45, 32.25], xt: [0, 10, 20, 30], yr: [5.9850, 6.1493], yt: [6.00, 6.05, 6.10],
    title: 'SRN', sub: '<i>d</i> = 2, <i>M</i> = 2, <i>C</i> = 2', ref: srnRef,
    series: [['pf2es', srnPf2es, srnPf2esSd], ['ehvi', srnEhviPof, srnEhviPofSd], ['mesmoc', srnMesmoc, srnMesmocSd],
             ['mesmocp', srnMesmocPlus, srnMesmocPlusSd], ['random', srnRandom, srnRandomSd]] },
  { x: 832, y: 290, w: 210, h: 154, xr: [-1.95, 43.05], xt: [0, 20, 40], yr: [3.3575, 3.4342], yt: [3.40],
    title: 'C2-DTLZ2', sub: '<i>d</i> = 4, <i>M</i> = 2, <i>C</i> = 1', ref: dtlzRef,
    series: [['pf2es', dtlzPf2es, dtlzPf2esSd], ['ehvi', dtlzEhviPof, dtlzEhviPofSd], ['mesmoc', dtlzMesmoc, dtlzMesmocSd],
             ['mesmocp', dtlzMesmocPlus, dtlzMesmocPlusSd], ['random', dtlzRandom, dtlzRandomSd]] }
];

// grey plotting area behind the white grid
const panelBackground = {
  id: 'panelBackground',
  beforeDraw(chart) {
    const { ctx, chartArea: a } = chart;
    ctx.save();
    ctx.fillStyle = PANEL_BG;
    ctx.fillRect(a.left, a.top, a.right - a.left, a.bottom - a.top);
    ctx.restore();
  }
};

const toPoints = arr => arr.map((v, i) => ({ x: i, y: v }));

function axisStyle() {
  return {
    grid: { color: '#ffffff', lineWidth: 2, tickColor: '#333333', tickLength: 3.5, tickWidth: 1 },
    border: { display: false }
  };
}

function makePanel(p) {
  const cv = document.createElement('canvas');
  const W = p.w + PAD_L + PAD_R, H = p.h + PAD_T + PAD_B;
  cv.width = W; cv.height = H;
  cv.style.left = (p.x - PAD_L) + 'px';
  cv.style.top = (p.y - PAD_T) + 'px';
  cv.style.width = W + 'px';
  cv.style.height = H + 'px';
  document.body.appendChild(cv);

  const lines = [];
  const bands = [];
  // orange on top, then the remaining methods with later legend entries above earlier ones
  const order = [p.series[0], ...p.series.slice(1).reverse()];
  order.forEach(([key, mean, sd]) => {
    lines.push({
      data: toPoints(mean), borderColor: COLORS[key], borderWidth: 2,
      pointRadius: 0, fill: false, borderJoinStyle: 'round'
    });
  });
  const n = p.series[0][1].length;
  lines.push({
    data: [{ x: 0, y: p.ref }, { x: n - 1, y: p.ref }], borderColor: COLORS.ref,
    borderWidth: 1.6, borderDash: [6, 3], pointRadius: 0, fill: false
  });
  p.series.forEach(([key, mean, sd]) => {
    bands.push({
      data: mean.map((v, i) => ({ x: i, y: v - sd[i] })), borderColor: rgba(COLORS[key], BAND_ALPHA),
      borderWidth: 1, pointRadius: 0, fill: false
    });
    bands.push({
      data: mean.map((v, i) => ({ x: i, y: v + sd[i] })), borderColor: rgba(COLORS[key], BAND_ALPHA),
      borderWidth: 1, pointRadius: 0, fill: '-1', backgroundColor: rgba(COLORS[key], BAND_ALPHA)
    });
  });

  const xs = axisStyle(), ys = axisStyle();
  new Chart(cv, {
    type: 'line',
    data: { datasets: [...lines, ...bands] },
    plugins: [panelBackground],
    options: {
      responsive: false, animation: false, events: [],
      layout: { padding: { left: 0, right: PAD_R, top: PAD_T, bottom: 0 } },
      plugins: {
        legend: { display: false }, tooltip: { enabled: false }, title: { display: false },
        filler: { drawTime: 'beforeDatasetsDraw', propagate: false }
      },
      elements: { line: { tension: 0 } },
      scales: {
        x: {
          type: 'linear', min: p.xr[0], max: p.xr[1], ...xs,
          afterBuildTicks: s => { s.ticks = p.xt.map(v => ({ value: v })); },
          afterFit: s => { s.height = PAD_B; },
          ticks: { font: { family: FONT, size: 16.5 }, color: '#000', padding: 1.5, maxRotation: 0, autoSkip: false,
                   callback: v => String(v) },
          title: { display: true, text: 'BO Iterations', font: { family: FONT, size: 17 }, color: '#000', padding: 0 }
        },
        y: {
          type: 'linear', min: p.yr[0], max: p.yr[1], ...ys,
          afterBuildTicks: s => { s.ticks = p.yt.map(v => ({ value: v })); },
          afterFit: s => { s.width = PAD_L; },
          ticks: { font: { family: FONT, size: 16.5 }, color: '#000', padding: 1.5, autoSkip: false,
                   callback: v => Number(v).toFixed(2) }
        }
      }
    }
  });

  const t = document.createElement('div');
  t.className = 'ttl';
  t.style.left = (p.x + p.w / 2 - 160) + 'px';
  t.style.top = (p.y - 38.6) + 'px';
  t.innerHTML = p.title + '<br>' + p.sub;
  document.body.appendChild(t);
}

panels.forEach(makePanel);

// shared y-axis labels
[124, 367].forEach(cy => {
  const d = document.createElement('div');
  d.className = 'ylab';
  d.style.left = '18px';
  d.style.top = cy + 'px';
  d.textContent = 'lg Hypervolume Indicator';
  document.body.appendChild(d);
});

// legends
const legendTop = [
  ['pf2es', '{PF}<sup>2</sup>ES'], ['ehvi', 'EHVI'], ['mesmo', 'MESMO'],
  ['pfes', 'PFES'], ['pesmo', 'PESMO'], ['random', 'Random']
];
const legendBottom = [
  ['pf2es', '{PF}<sup>2</sup>ES'], ['ehvi', 'EHVI-PoF'], ['mesmoc', 'MESMOC'],
  ['mesmocp', 'MESMOC+'], ['random', 'Random']
];

function makeLegend(items, boxTop, boxH, firstY, step) {
  const box = document.createElement('div');
  box.className = 'leg';
  box.style.top = boxTop + 'px';
  box.style.height = boxH + 'px';
  document.body.appendChild(box);
  items.forEach(([key, label], i) => {
    const cy = firstY + i * step;
    const k = document.createElement('div');
    k.className = 'key';
    k.style.top = (cy - 5.5) + 'px';
    k.style.background = rgba(COLORS[key], 0.22);
    k.style.border = '1px solid ' + rgba(COLORS[key], 0.3);
    const ln = document.createElement('i');
    ln.style.background = COLORS[key];
    k.appendChild(ln);
    document.body.appendChild(k);
    const l = document.createElement('div');
    l.className = 'lab';
    l.style.top = (cy - 9.2) + 'px';
    l.innerHTML = label;
    document.body.appendChild(l);
  });
  const cy = firstY + items.length * step + 6.3;
  const dash = document.createElement('div');
  dash.style.cssText = `position:absolute;left:1057px;width:33px;height:2px;top:${cy - 1}px;` +
    `background:repeating-linear-gradient(to right, ${COLORS.ref} 0 7px, transparent 7px 10.5px);`;
  document.body.appendChild(dash);
  const l = document.createElement('div');
  l.className = 'lab';
  l.style.top = (cy - 19.2) + 'px';
  l.innerHTML = 'Reference<br>Hypervolume';
  document.body.appendChild(l);
}

makeLegend(legendTop, 30, 193, 46.7, 23.8);
makeLegend(legendBottom, 284.5, 169, 301.2, 23.9);
</script>
</body>
</html>
